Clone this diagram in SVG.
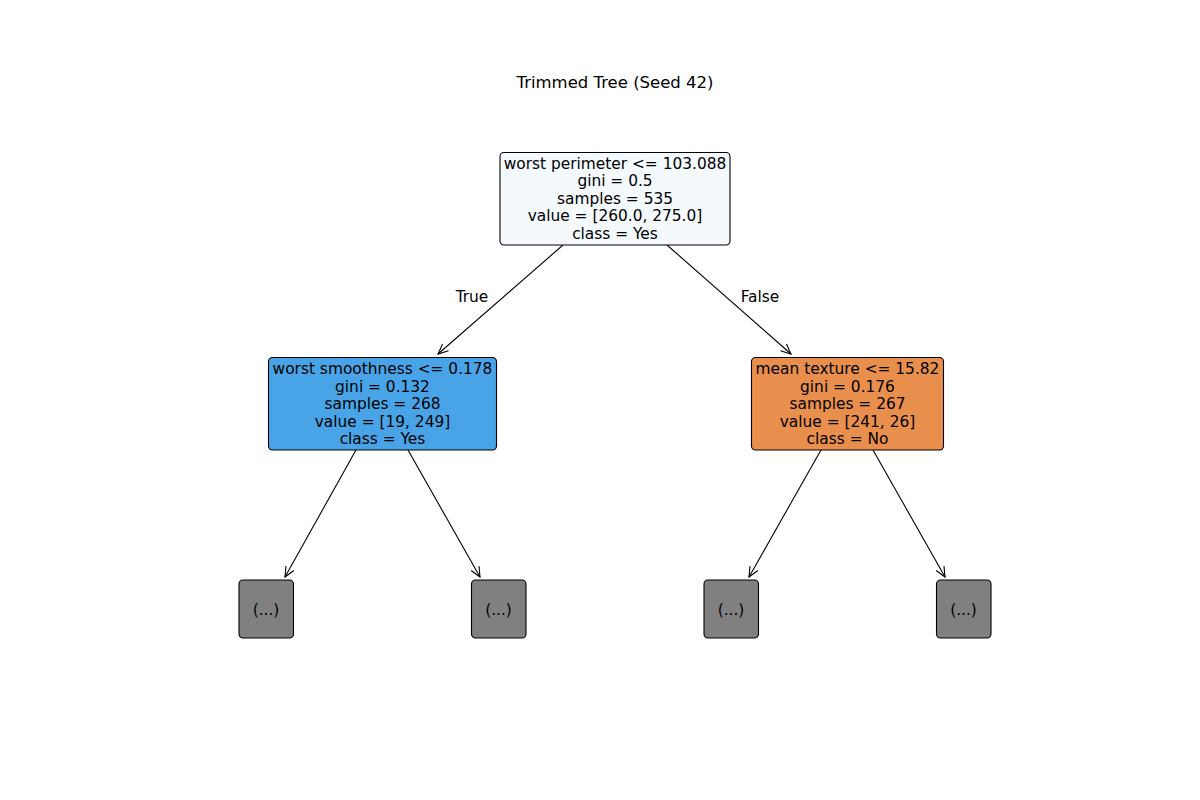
<svg xmlns="http://www.w3.org/2000/svg" width="1200" height="800" viewBox="0 0 1200 800">
<defs>
<style>
text{font-family:"DejaVu Sans",sans-serif;fill:#000;text-anchor:middle}
.n{font-size:15.4px}
.box{stroke:#000;stroke-width:1.1}
.e{stroke:#000;stroke-width:1.1;fill:none;marker-end:url(#arr)}
</style>
<marker id="arr" viewBox="0 0 12 12" refX="11" refY="6" markerWidth="12" markerHeight="12" markerUnits="userSpaceOnUse" orient="auto">
<path d="M1,1.5 L11,6 L1,10.5" fill="none" stroke="#000" stroke-width="1.1"/>
</marker>
</defs>
<rect width="1200" height="800" fill="#fff"/>
<text x="615" y="88" style="font-size:16.5px">Trimmed Tree (Seed 42)</text>
<g id="connectors">
<line class="e" x1="563" y1="245" x2="438" y2="354"/>
<line class="e" x1="667" y1="245" x2="791" y2="354"/>
<line class="e" x1="356" y1="450" x2="285" y2="577"/>
<line class="e" x1="408" y1="450" x2="480" y2="577"/>
<line class="e" x1="821" y1="450" x2="749" y2="577"/>
<line class="e" x1="873" y1="450" x2="945" y2="577"/>
<text class="n" x="472" y="301.5">True</text>
<text class="n" x="760" y="301.5">False</text>
</g>
<g id="root">
<rect class="box" x="500" y="152.5" width="230" height="92.5" rx="4" fill="#f4f9fe"/>
<text class="n" x="615" y="168.5">worst perimeter &lt;= 103.088</text>
<text class="n" x="615" y="186">gini = 0.5</text>
<text class="n" x="615" y="203.5">samples = 535</text>
<text class="n" x="615" y="221">value = [260.0, 275.0]</text>
<text class="n" x="615" y="238.5">class = Yes</text>
</g>
<g id="left">
<rect class="box" x="268.5" y="357.5" width="228" height="92.5" rx="4" fill="#48a4e7"/>
<text class="n" x="382.5" y="374">worst smoothness &lt;= 0.178</text>
<text class="n" x="382.5" y="391.5">gini = 0.132</text>
<text class="n" x="382.5" y="409">samples = 268</text>
<text class="n" x="382.5" y="426.5">value = [19, 249]</text>
<text class="n" x="382.5" y="444">class = Yes</text>
</g>
<g id="right">
<rect class="box" x="751.5" y="357.5" width="192" height="92.5" rx="4" fill="#e88f4e"/>
<text class="n" x="847.5" y="374">mean texture &lt;= 15.82</text>
<text class="n" x="847.5" y="391.5">gini = 0.176</text>
<text class="n" x="847.5" y="409">samples = 267</text>
<text class="n" x="847.5" y="426.5">value = [241, 26]</text>
<text class="n" x="847.5" y="444">class = No</text>
</g>
<g id="leaf1">
<rect class="box" x="239" y="580" width="54.5" height="58" rx="4" fill="#808080"/>
<text class="n" x="266" y="614.5">(...)</text>
</g>
<g id="leaf2">
<rect class="box" x="471.5" y="580" width="54.5" height="58" rx="4" fill="#808080"/>
<text class="n" x="498.5" y="614.5">(...)</text>
</g>
<g id="leaf3">
<rect class="box" x="704" y="580" width="54.5" height="58" rx="4" fill="#808080"/>
<text class="n" x="731" y="614.5">(...)</text>
</g>
<g id="leaf4">
<rect class="box" x="936.5" y="580" width="54.5" height="58" rx="4" fill="#808080"/>
<text class="n" x="963.5" y="614.5">(...)</text>
</g>
</svg>
